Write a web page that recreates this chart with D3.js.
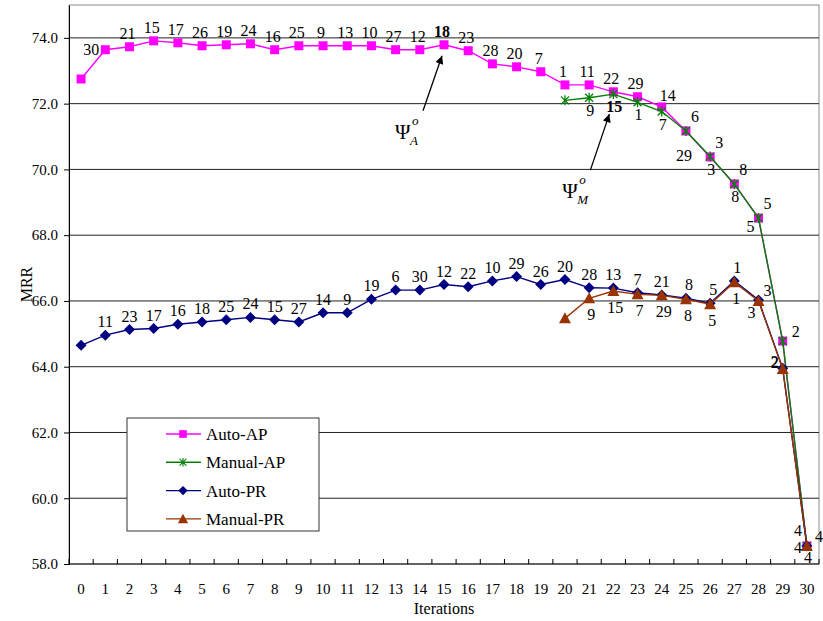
<!DOCTYPE html>
<html>
<head>
<meta charset="utf-8">
<script src="https://cdn.jsdelivr.net/npm/d3@7"></script>
<style>
  body { margin: 0; background: #fff; }
  svg, svg text { font-family: "Times New Roman", Times, "Liberation Serif", "DejaVu Serif", serif; }
</style>
</head>
<body>
<div id="container"></div>
<script>
/* DATA */
const iterations = d3.range(0, 31);
const yTicks = [58, 60, 62, 64, 66, 68, 70, 72, 74];

const autoAP = [72.75, 73.64, 73.73, 73.91, 73.85, 73.76, 73.79, 73.82, 73.64, 73.76,
  73.76, 73.76, 73.76, 73.64, 73.64, 73.79, 73.61, 73.21, 73.12, 72.97,
  72.57, 72.57, 72.36, 72.21, 71.90, 71.17, 70.38, 69.56, 68.52, 64.78, 58.55];
const autoAPLabels = [null, 30, 21, 15, 17, 26, 19, 24, 16, 25, 9, 13, 10, 27, 12, 18,
  23, 28, 20, 7, 1, 11, 22, 29, 14, 6, 3, 8, 5, 2, 4];

// manual runs start at iteration 20
const manualAP = [72.10, 72.18, 72.29, 72.04, 71.76, 71.17, 70.39, 69.55, 68.52, 64.78, 58.55];
const manualAPLabels = [null, 9, 15, 1, 7, 29, 3, 8, 5, null, 4];

const autoPR = [64.65, 64.96, 65.13, 65.16, 65.29, 65.36, 65.43, 65.50, 65.43, 65.36,
  65.64, 65.64, 66.05, 66.33, 66.33, 66.50, 66.43, 66.61, 66.74, 66.50,
  66.65, 66.40, 66.39, 66.25, 66.18, 66.08, 65.93, 66.61, 66.03, 63.95, 58.55];
const autoPRLabels = [null, 11, 23, 17, 16, 18, 25, 24, 15, 27, 14, 9, 19, 6, 30, 12,
  22, 10, 29, 26, 20, 28, 13, 7, 21, 8, 5, 1, 3, 2, 4];

const manualPR = [65.47, 66.08, 66.30, 66.20, 66.17, 66.05, 65.90, 66.57, 66.00, 63.93, 58.55];
const manualPRLabels = [null, 9, 15, 7, 29, 8, 5, 1, 3, 2, 4];

/* CONSTANTS */
const width = 823, height = 621;
const margin = { top: 5, right: 4, bottom: 57, left: 69 };
const font = "Times New Roman, Times, Liberation Serif, DejaVu Serif, serif";

const svg = d3.select("#container").append("svg")
  .attr("width", width).attr("height", height)
  .attr("font-family", font);

/* SCALES */
const x = d3.scalePoint()
  .domain(iterations)
  .range([margin.left, width - margin.right])
  .padding(0.5);
const step = x.step();

const y = d3.scaleLinear()
  .domain([58, 75])
  .range([height - margin.bottom, margin.top]);

// plot frame (grey top/right)
svg.append("rect")
  .attr("x", margin.left).attr("y", margin.top)
  .attr("width", width - margin.right - margin.left)
  .attr("height", y(58) - margin.top)
  .attr("fill", "none").attr("stroke", "#8c8c8c");

// gridlines
svg.append("g")
  .selectAll("line")
  .data(yTicks.filter(d => d > 58))
  .join("line")
  .attr("x1", margin.left).attr("x2", width - margin.right)
  .attr("y1", d => y(d)).attr("y2", d => y(d))
  .attr("stroke", "#222").attr("stroke-width", 1);

// y axis
const yAxis = d3.axisLeft(y).tickValues(yTicks).tickSize(5).tickSizeOuter(0)
  .tickFormat(d3.format(".1f")).tickPadding(6);
svg.append("g")
  .attr("transform", `translate(${margin.left},0)`)
  .call(yAxis)
  .attr("font-family", font)
  .call(g => g.select(".domain").attr("stroke", "#000"))
  .call(g => g.selectAll("text").attr("font-size", 15).attr("fill", "#000"));

// x axis: ticks between categories, pointing up
const xAxisG = svg.append("g").attr("transform", `translate(0,${y(58)})`);
xAxisG.append("line")
  .attr("x1", margin.left).attr("x2", width - margin.right)
  .attr("stroke", "#000");
xAxisG.selectAll("line.tk")
  .data(d3.range(0, 32))
  .join("line").attr("class", "tk")
  .attr("x1", i => margin.left + i * step).attr("x2", i => margin.left + i * step)
  .attr("y1", 0).attr("y2", -5)
  .attr("stroke", "#000");
xAxisG.selectAll("text")
  .data(iterations)
  .join("text")
  .attr("x", d => x(d)).attr("y", 30)
  .attr("text-anchor", "middle")
  .attr("font-size", 15)
  .text(d => d);

// axis titles
svg.append("text")
  .attr("x", (margin.left + width - margin.right) / 2).attr("y", 614)
  .attr("text-anchor", "middle").attr("font-size", 16)
  .text("Iterations");
svg.append("text")
  .attr("transform", `translate(32,${y(66.5)}) rotate(-90)`)
  .attr("text-anchor", "middle").attr("font-size", 16)
  .text("MRR");

/* SERIES */
const series = [
  { name: "Auto-AP", values: autoAP, labels: autoAPLabels, start: 0, color: "#ff00ff", marker: "square" },
  { name: "Manual-AP", values: manualAP, labels: manualAPLabels, start: 20, color: "#008000", marker: "star" },
  { name: "Auto-PR", values: autoPR, labels: autoPRLabels, start: 0, color: "#000080", marker: "diamond" },
  { name: "Manual-PR", values: manualPR, labels: manualPRLabels, start: 20, color: "#993300", marker: "triangle" }
];

function drawMarker(g, type, color, sc) {
  sc = sc || 1;
  if (type === "square") {
    g.append("rect").attr("x", -4.5 * sc).attr("y", -4.5 * sc).attr("width", 9 * sc).attr("height", 9 * sc).attr("fill", color);
  } else if (type === "diamond") {
    g.append("path").attr("d", "M0,-5.5L5.5,0L0,5.5L-5.5,0Z").attr("transform", `scale(${sc})`).attr("fill", color);
  } else if (type === "triangle") {
    g.append("path").attr("d", "M0,-6L6,5L-6,5Z").attr("transform", `scale(${sc})`).attr("fill", color);
  } else if (type === "star") {
    g.append("path")
      .attr("d", "M-4,-4L4,4M-4,4L4,-4M0,-5L0,5").attr("transform", `scale(${sc})`)
      .attr("stroke", color).attr("stroke-width", 1.3).attr("fill", "none");
  }
}

const line = d3.line().x(d => x(d.i)).y(d => y(d.v));

series.forEach(s => {
  const pts = s.values.map((v, k) => ({ i: s.start + k, v: v, lab: s.labels[k] }));
  s.pts = pts;
  const g = svg.append("g");
  g.append("path").datum(pts)
    .attr("d", line).attr("fill", "none")
    .attr("stroke", s.color).attr("stroke-width", 1.4);
  g.selectAll("g.m").data(pts).join("g").attr("class", "m")
    .attr("transform", d => `translate(${x(d.i)},${y(d.v)})`)
    .each(function () { drawMarker(d3.select(this), s.marker, s.color); });
});

// data labels (position offsets decided per series)
function labelPos(s, d) {
  const px = x(d.i), py = y(d.v);
  if (s.name === "Auto-AP") {
    if (d.i === 1) return [px - 6, py + 5, "end"];
    if (d.i === 30) return [px + 12, py - 4, "middle"];
    if (d.i === 29) return [px + 13, py - 4, "middle"];
    if (d.i >= 25) return [px + 9, py - 9, "middle"];
    if (d.i === 24) return [px + 6, py - 6, "middle"];
    return [px - 2, py - 8, "middle"];
  }
  if (s.name === "Manual-AP") {
    if (d.i === 30) return [px + 1, py + 17, "middle"];
    if (d.i === 25) return [px - 2, py + 30, "middle"];
    if (d.i === 28) return [px - 8, py + 14, "middle"];
    return [px + 1, py + 18, "middle"];
  }
  if (s.name === "Auto-PR") {
    if (d.i === 30) return [px - 5, py - 10, "end"];
    if (d.i === 29) return [px - 4, py - 1, "end"];
    if (d.i === 28) return [px + 9, py - 4, "middle"];
    if (d.i >= 25) return [px + 3, py - 8, "middle"];
    return [px, py - 8, "middle"];
  }
  // Manual-PR
  if (d.i === 30) return [px - 5, py + 7, "end"];
  if (d.i === 29) return [px - 4, py - 1, "end"];
  if (d.i === 28) return [px - 7, py + 17, "middle"];
  return [px + 2, py + 22, "middle"];
}

series.forEach(s => {
  svg.append("g").selectAll("text")
    .data(s.pts.filter(d => d.lab !== null))
    .join("text")
    .each(function (d) {
      const [lx, ly, anchor] = labelPos(s, d);
      d3.select(this).attr("x", lx).attr("y", ly).attr("text-anchor", anchor);
    })
    .attr("font-size", 16)
    .attr("font-weight", d => (s.name === "Auto-AP" && d.i === 15) || (s.name === "Manual-AP" && d.i === 22) ? "bold" : "normal")
    .text(d => d.lab);
});

/* ANNOTATIONS */
svg.append("defs").append("marker")
  .attr("id", "arrow").attr("viewBox", "0 0 10 10")
  .attr("refX", 10).attr("refY", 5)
  .attr("markerWidth", 12).attr("markerHeight", 8)
  .attr("markerUnits", "userSpaceOnUse")
  .attr("orient", "auto")
  .append("path").attr("d", "M0,0L10,5L0,10Z").attr("fill", "#000");

function psi(px, py, sub, tx, ty, hx, hy) {
  svg.append("line")
    .attr("x1", px + tx).attr("y1", py + ty)
    .attr("x2", px + hx).attr("y2", py + hy)
    .attr("stroke", "#000").attr("stroke-width", 1.3)
    .attr("marker-end", "url(#arrow)");
  svg.append("text")
    .attr("x", px + tx - 28).attr("y", py + ty + 28)
    .attr("font-size", 21).text("Ψ");
  svg.append("text")
    .attr("x", px + tx - 11).attr("y", py + ty + 14)
    .attr("font-size", 13).attr("font-style", "italic").text("o");
  svg.append("text")
    .attr("x", px + tx - 13).attr("y", py + ty + 34)
    .attr("font-size", 13).attr("font-style", "italic").text(sub);
}
psi(x(15), y(autoAP[15]), "A", -21, 66, -2, 11);
psi(x(22), y(manualAP[2]), "M", -23, 76, -4, 20);

/* LEGEND */
const legend = svg.append("g").attr("transform", "translate(127,418)");
legend.append("rect")
  .attr("width", 192).attr("height", 113)
  .attr("fill", "#fff").attr("stroke", "#333");
series.forEach((s, k) => {
  const ly = 16 + k * 28.3;
  legend.append("line").attr("x1", 39).attr("x2", 74).attr("y1", ly).attr("y2", ly)
    .attr("stroke", s.color).attr("stroke-width", 1.4);
  const mg = legend.append("g").attr("transform", `translate(56,${ly})`);
  drawMarker(mg, s.marker, s.color, 0.85);
  legend.append("text").attr("x", 79).attr("y", ly + 6)
    .attr("font-size", 17).text(s.name);
});
</script>
</body>
</html>
